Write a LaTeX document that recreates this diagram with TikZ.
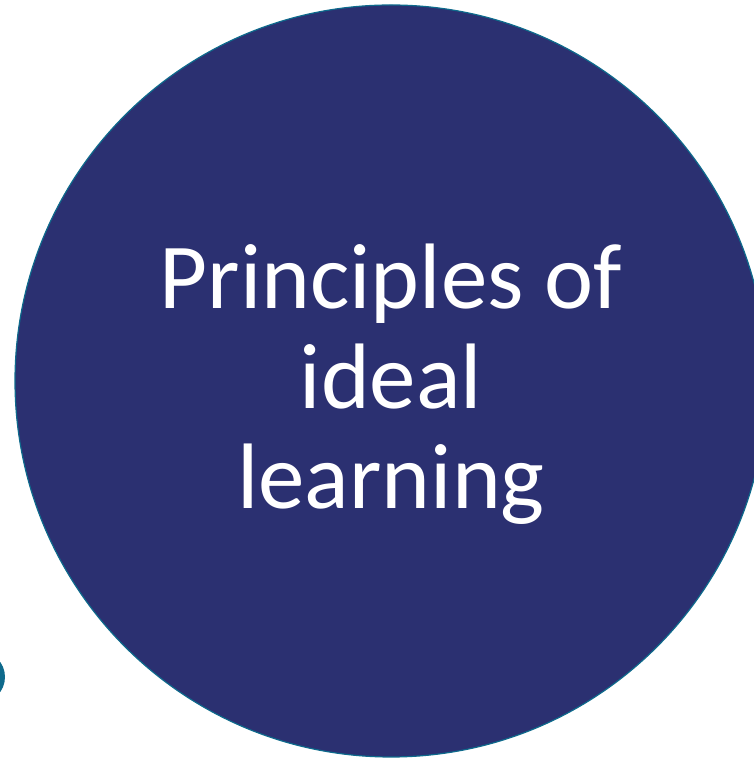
\documentclass[tikz,border=0pt]{standalone}
\usepackage{fontspec}
\setmainfont{Carlito}
\usetikzlibrary{positioning}
\definecolor{navy}{HTML}{2B3071}
\definecolor{teal}{HTML}{0E6A8C}

\begin{document}
\begin{tikzpicture}[x=1pt, y=1pt,
                    bigcircle/.style={circle, fill=navy, draw=teal, line width=1.2pt, minimum size=752pt, inner sep=0pt},
                    title/.style={text=white, align=center, font=\fontsize{93}{100}\selectfont}]
    \useasboundingbox (0,0) rectangle (753,762);
    \node[circle, fill=teal, minimum size=52pt, inner sep=0pt] (dot) at (-21,85) {};
    \node[bigcircle] (main) at (391,381) {};
    \node[title] (label) at (391,378) {Principles of\\ideal\\learning};
\end{tikzpicture}
\end{document}
